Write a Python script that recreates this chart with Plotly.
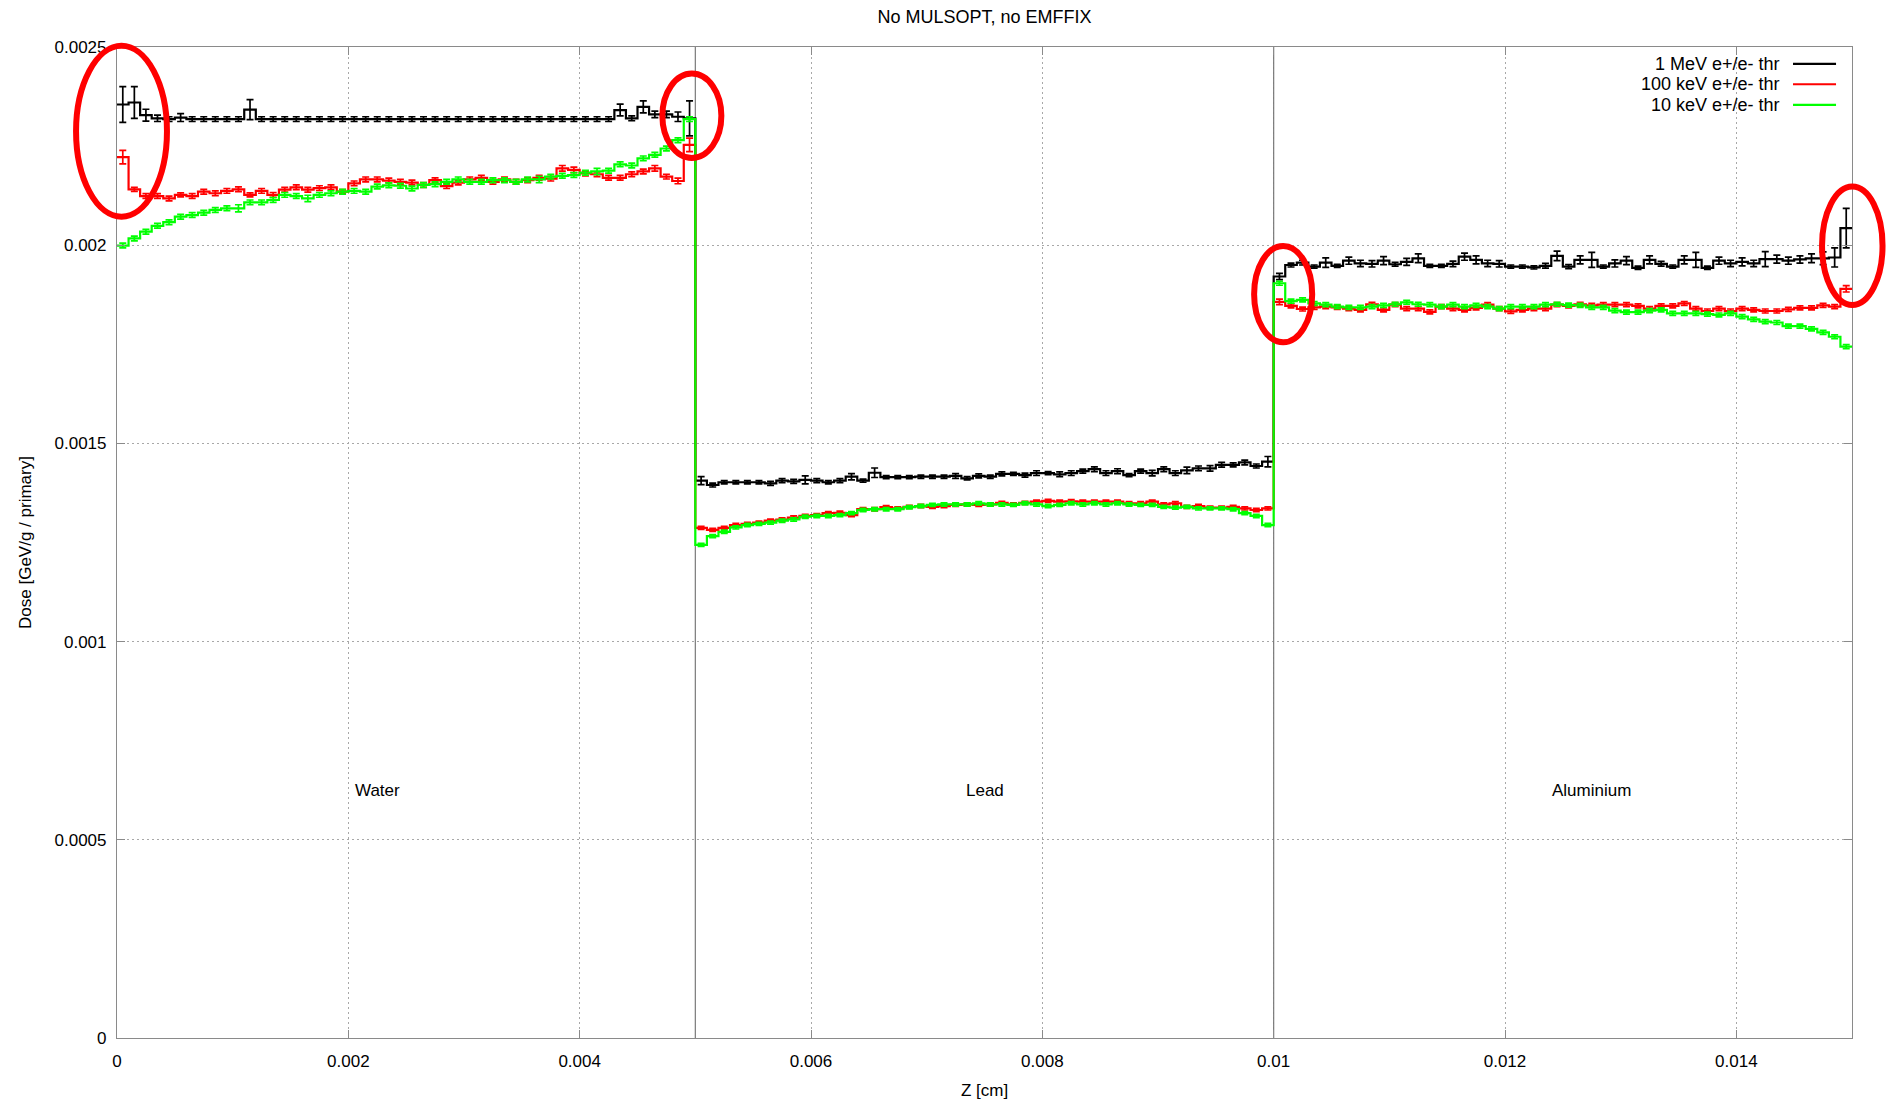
import numpy as np
import plotly.graph_objects as go

# ---------------- data ----------------
BIN_WIDTH = 1e-4          # cm, 50 bins per material slab
REGIONS = ["Water", "Lead", "Aluminium"]
REGION_LABEL_X = [0.00225, 0.0075, 0.01275]
REGION_LABEL_Y = 0.000625
BOUNDARIES = [0.005, 0.01]

X_TICKS = [0, 0.002, 0.004, 0.006, 0.008, 0.01, 0.012, 0.014]
X_TICK_TEXT = ["0", "0.002", "0.004", "0.006", "0.008", "0.01", "0.012", "0.014"]
Y_TICKS = [0, 0.0005, 0.001, 0.0015, 0.002, 0.0025]
Y_TICK_TEXT = ["0", "0.0005", "0.001", "0.0015", "0.002", "0.0025"]

SERIES_NAMES = ["1 MeV e+/e- thr", "100 keV e+/e- thr", "10 keV e+/e- thr"]
SERIES_COLORS = ["#000000", "#ff0000", "#00ff00"]

# 1 MeV threshold (black)
black_water = [0.002355, 0.002360, 0.002328, 0.002320, 0.002318, 0.002322, 0.002318, 0.002318, 0.002318, 0.002318,
               0.002318, 0.002342, 0.002318, 0.002318, 0.002318, 0.002318, 0.002318, 0.002318, 0.002318, 0.002318,
               0.002318, 0.002318, 0.002318, 0.002318, 0.002318, 0.002318, 0.002318, 0.002318, 0.002318, 0.002318,
               0.002318, 0.002318, 0.002318, 0.002318, 0.002318, 0.002318, 0.002318, 0.002318, 0.002318, 0.002318,
               0.002318, 0.002318, 0.002318, 0.002341, 0.002320, 0.002349, 0.002330, 0.002330, 0.002324, 0.002320]
black_lead = [0.001406, 0.001395, 0.001402, 0.001402, 0.001402, 0.001402, 0.001399, 0.001406, 0.001404, 0.001408,
              0.001406, 0.001402, 0.001406, 0.001416, 0.001406, 0.001426, 0.001415, 0.001415, 0.001415, 0.001416,
              0.001416, 0.001416, 0.001418, 0.001412, 0.001418, 0.001416, 0.001423, 0.001423, 0.001420, 0.001425,
              0.001425, 0.001422, 0.001425, 0.001430, 0.001435, 0.001425, 0.001430, 0.001420, 0.001430, 0.001425,
              0.001435, 0.001425, 0.001432, 0.001437, 0.001437, 0.001446, 0.001446, 0.001452, 0.001443, 0.001454]
black_alu = [0.001921, 0.001950, 0.001956, 0.001946, 0.001956, 0.001948, 0.001961, 0.001954, 0.001953, 0.001961,
             0.001952, 0.001958, 0.001967, 0.001948, 0.001948, 0.001953, 0.001971, 0.001963, 0.001954, 0.001953,
             0.001946, 0.001946, 0.001944, 0.001948, 0.001973, 0.001946, 0.001963, 0.001963, 0.001946, 0.001954,
             0.001961, 0.001943, 0.001963, 0.001953, 0.001946, 0.001963, 0.001963, 0.001943, 0.001961, 0.001954,
             0.001958, 0.001954, 0.001965, 0.001965, 0.001961, 0.001964, 0.001967, 0.001967, 0.001969, 0.002043]

# 100 keV threshold (red)
red_water = [0.002222, 0.002141, 0.002124, 0.002124, 0.002118, 0.002127, 0.002124, 0.002135, 0.002131, 0.002137,
             0.002141, 0.002127, 0.002137, 0.002127, 0.002140, 0.002146, 0.002140, 0.002144, 0.002146, 0.002135,
             0.002156, 0.002166, 0.002166, 0.002163, 0.002160, 0.002158, 0.002152, 0.002164, 0.002149, 0.002158,
             0.002166, 0.002170, 0.002160, 0.002166, 0.002160, 0.002164, 0.002170, 0.002168, 0.002194, 0.002190,
             0.002181, 0.002179, 0.002170, 0.002170, 0.002179, 0.002186, 0.002194, 0.002173, 0.002162, 0.002253]
red_lead = [0.001287, 0.001282, 0.001287, 0.001294, 0.001297, 0.001300, 0.001305, 0.001308, 0.001313, 0.001317,
            0.001319, 0.001324, 0.001325, 0.001319, 0.001334, 0.001334, 0.001339, 0.001336, 0.001340, 0.001342,
            0.001340, 0.001342, 0.001345, 0.001346, 0.001345, 0.001346, 0.001350, 0.001346, 0.001350, 0.001353,
            0.001355, 0.001353, 0.001354, 0.001353, 0.001353, 0.001353, 0.001353, 0.001349, 0.001349, 0.001353,
            0.001346, 0.001349, 0.001340, 0.001342, 0.001338, 0.001338, 0.001340, 0.001336, 0.001332, 0.001336]
red_alu = [0.001857, 0.001847, 0.001839, 0.001843, 0.001845, 0.001843, 0.001840, 0.001837, 0.001851, 0.001837,
           0.001850, 0.001840, 0.001840, 0.001832, 0.001845, 0.001840, 0.001837, 0.001842, 0.001850, 0.001840,
           0.001833, 0.001837, 0.001840, 0.001840, 0.001850, 0.001847, 0.001851, 0.001848, 0.001850, 0.001850,
           0.001850, 0.001847, 0.001840, 0.001847, 0.001847, 0.001853, 0.001840, 0.001834, 0.001840, 0.001834,
           0.001840, 0.001837, 0.001834, 0.001834, 0.001838, 0.001842, 0.001842, 0.001848, 0.001845, 0.001890]

# 10 keV threshold (green)
green_water = [0.001999, 0.002017, 0.002034, 0.002049, 0.002058, 0.002072, 0.002076, 0.002082, 0.002089, 0.002093,
               0.002093, 0.002108, 0.002108, 0.002114, 0.002127, 0.002124, 0.002118, 0.002127, 0.002131, 0.002135,
               0.002137, 0.002135, 0.002148, 0.002151, 0.002150, 0.002143, 0.002152, 0.002154, 0.002160, 0.002166,
               0.002160, 0.002160, 0.002164, 0.002164, 0.002160, 0.002166, 0.002166, 0.002173, 0.002175, 0.002177,
               0.002183, 0.002186, 0.002188, 0.002204, 0.002201, 0.002219, 0.002228, 0.002244, 0.002265, 0.002318]
green_lead = [0.001244, 0.001266, 0.001277, 0.001288, 0.001294, 0.001297, 0.001300, 0.001305, 0.001308, 0.001315,
              0.001317, 0.001317, 0.001319, 0.001324, 0.001332, 0.001334, 0.001334, 0.001334, 0.001339, 0.001342,
              0.001345, 0.001346, 0.001346, 0.001346, 0.001349, 0.001346, 0.001346, 0.001345, 0.001349, 0.001346,
              0.001342, 0.001345, 0.001349, 0.001346, 0.001349, 0.001346, 0.001349, 0.001346, 0.001345, 0.001345,
              0.001340, 0.001338, 0.001340, 0.001336, 0.001336, 0.001336, 0.001334, 0.001324, 0.001317, 0.001294]
green_alu = [0.001904, 0.001859, 0.001862, 0.001853, 0.001850, 0.001845, 0.001843, 0.001843, 0.001845, 0.001848,
             0.001851, 0.001856, 0.001851, 0.001850, 0.001845, 0.001850, 0.001845, 0.001848, 0.001845, 0.001840,
             0.001845, 0.001845, 0.001845, 0.001850, 0.001851, 0.001849, 0.001848, 0.001843, 0.001843, 0.001835,
             0.001831, 0.001831, 0.001835, 0.001837, 0.001828, 0.001828, 0.001828, 0.001826, 0.001824, 0.001828,
             0.001820, 0.001813, 0.001807, 0.001805, 0.001796, 0.001796, 0.001789, 0.001780, 0.001769, 0.001744]

# statistical errors, in units of 1e-6 GeV/g/primary
black_water_err = [45, 40, 15, 8, 6, 10, 6, 6, 6, 6, 6, 25, 6, 6, 6, 6, 6, 6, 6, 6, 6, 6, 6, 6, 6,
                   6, 6, 6, 6, 6, 6, 6, 6, 6, 6, 6, 6, 6, 6, 6, 6, 6, 6, 15, 6, 15, 8, 8, 12, 44]
black_lead_err = [10, 5, 4, 4, 4, 4, 5, 5, 5, 10, 5, 4, 5, 8, 4, 12, 4, 4, 4, 4, 4, 4, 6, 4, 5,
                  4, 5, 4, 5, 6, 4, 6, 6, 5, 6, 6, 6, 4, 5, 7, 6, 6, 8, 6, 7, 6, 5, 6, 5, 13]
black_alu_err = [8, 5, 6, 4, 12, 4, 9, 8, 8, 10, 5, 9, 11, 4, 4, 7, 9, 10, 8, 8, 4, 4, 4, 6, 12,
                 5, 10, 19, 4, 9, 10, 4, 10, 6, 4, 10, 19, 4, 9, 8, 10, 8, 19, 10, 9, 9, 11, 16, 24, 50]
red_water_err = [17, 5, 6, 6, 6, 5, 6, 6, 6, 6, 6, 5, 6, 6, 6, 6, 6, 6, 6, 5, 6, 6, 6, 6, 6,
                 6, 6, 6, 6, 6, 6, 6, 6, 6, 6, 6, 6, 6, 7, 7, 6, 6, 6, 6, 6, 6, 7, 6, 7, 17]
red_lead_err = [4] * 50
red_alu_err = [7, 5, 5, 5, 5, 5, 5, 5, 5, 5, 5, 5, 5, 5, 5, 5, 5, 5, 5, 5, 5, 5, 5, 5, 5,
               5, 5, 5, 5, 5, 5, 5, 5, 5, 5, 5, 5, 5, 5, 5, 5, 5, 5, 5, 5, 5, 5, 5, 5, 8]
green_water_err = [6, 6, 6, 6, 6, 6, 6, 6, 6, 6, 9, 6, 6, 6, 6, 6, 8, 6, 6, 6, 6, 6, 6, 6, 6,
                   6, 6, 6, 6, 6, 6, 6, 6, 6, 6, 6, 8, 6, 6, 6, 6, 8, 6, 6, 6, 6, 6, 6, 6, 6]
green_lead_err = [4] * 50
green_alu_err = [5] * 50

# highlighted regions (data coordinates: x0, x1, y0, y1)
ELLIPSES = [
    (-0.000354, 0.000432, 0.002072, 0.002503),
    (0.004715, 0.005225, 0.002220, 0.002433),
    (0.009831, 0.010333, 0.001755, 0.001998),
    (0.014741, 0.015264, 0.001849, 0.002148),
]

X_RANGE = [0, 0.015]
Y_RANGE = [0, 0.0025]

# ---------------- build ----------------
series_vals = [black_water + black_lead + black_alu,
               red_water + red_lead + red_alu,
               green_water + green_lead + green_alu]
series_errs = [black_water_err + black_lead_err + black_alu_err,
               red_water_err + red_lead_err + red_alu_err,
               green_water_err + green_lead_err + green_alu_err]

n_bins = len(series_vals[0])
edges = np.round(np.arange(n_bins + 1) * BIN_WIDTH, 7)
centers = np.round(edges[:-1] + BIN_WIDTH / 2, 7)

FONT = "Liberation Sans, Arial, Helvetica, sans-serif"
BORDER = "#8a8a8a"
GRID = "#a8a8a8"

fig = go.Figure()
for name, color, vals, errs in zip(SERIES_NAMES, SERIES_COLORS, series_vals, series_errs):
    fig.add_trace(go.Scatter(
        x=list(edges), y=vals + [vals[-1]], mode="lines", line=dict(color=color, width=2.2, shape="hv"),
        name=name, showlegend=False, hoverinfo="skip"))
    fig.add_trace(go.Scatter(
        x=list(centers), y=vals, mode="markers", marker=dict(color=color, size=2),
        error_y=dict(type="data", array=[e * 1e-6 for e in errs], color=color, thickness=1.7, width=3.5),
        name=name, showlegend=False))

# boundaries between materials
for b in BOUNDARIES:
    fig.add_shape(type="line", x0=b, x1=b, y0=Y_RANGE[0], y1=Y_RANGE[1], xref="x", yref="y",
                  line=dict(color="#7a7a7a", width=1.2), layer="between")

# material labels
for lab, lx in zip(REGIONS, REGION_LABEL_X):
    fig.add_annotation(x=lx, y=REGION_LABEL_Y, text=lab, showarrow=False, xref="x", yref="y",
                       font=dict(family=FONT, size=17, color="black"))

def to_paper_x(v):
    return (v - X_RANGE[0]) / (X_RANGE[1] - X_RANGE[0])

def to_paper_y(v):
    return (v - Y_RANGE[0]) / (Y_RANGE[1] - Y_RANGE[0])

for (ex0, ex1, ey0, ey1) in ELLIPSES:
    fig.add_shape(type="circle", xref="paper", yref="paper",
                  x0=to_paper_x(ex0), x1=to_paper_x(ex1), y0=to_paper_y(ey0), y1=to_paper_y(ey1),
                  line=dict(color="#ff0000", width=6), layer="above")

# gnuplot-style key: text right-aligned, line sample on the right
key_rows_y = [0.983, 0.9624, 0.9417]
for name, color, ky in zip(SERIES_NAMES, SERIES_COLORS, key_rows_y):
    fig.add_annotation(x=0.9597, y=ky, xref="paper", yref="paper", text=name, showarrow=False,
                       xanchor="right", yanchor="middle", font=dict(family=FONT, size=18, color="black"))
    fig.add_shape(type="line", xref="paper", yref="paper", x0=0.966, x1=0.9908, y0=ky, y1=ky,
                  line=dict(color=color, width=2.2))

axis_common = dict(showline=True, linecolor=BORDER, linewidth=1.2, mirror="ticks", ticks="inside",
                   ticklen=8, tickcolor=BORDER, tickwidth=1, showgrid=True, gridcolor=GRID,
                   griddash="2px,3px", gridwidth=1, zeroline=False,
                   tickfont=dict(family=FONT, size=17, color="black"))

fig.update_layout(
    width=1886, height=1100,
    margin=dict(l=117, r=34, t=47, b=62, autoexpand=False),
    paper_bgcolor="white", plot_bgcolor="white",
    font=dict(family=FONT, size=17, color="black"),
    showlegend=False,
    title=dict(text="No MULSOPT, no EMFFIX", x=0.5, xref="paper", y=0.9845, yref="container",
               xanchor="center", yanchor="middle", font=dict(family=FONT, size=18, color="black")),
    xaxis=dict(range=X_RANGE, tickvals=X_TICKS, ticktext=X_TICK_TEXT, ticklabelstandoff=7,
               title=dict(text="Z [cm]", standoff=15, font=dict(family=FONT, size=17)), **axis_common),
    yaxis=dict(range=Y_RANGE, tickvals=Y_TICKS, ticktext=Y_TICK_TEXT, ticklabelstandoff=6,
               title=dict(text="Dose [GeV/g / primary]", standoff=18, font=dict(family=FONT, size=17)),
               **axis_common),
)

fig.write_html("out.html", config={"displayModeBar": False},
               post_script="document.body.style.margin='0';document.body.style.overflow='hidden';")
